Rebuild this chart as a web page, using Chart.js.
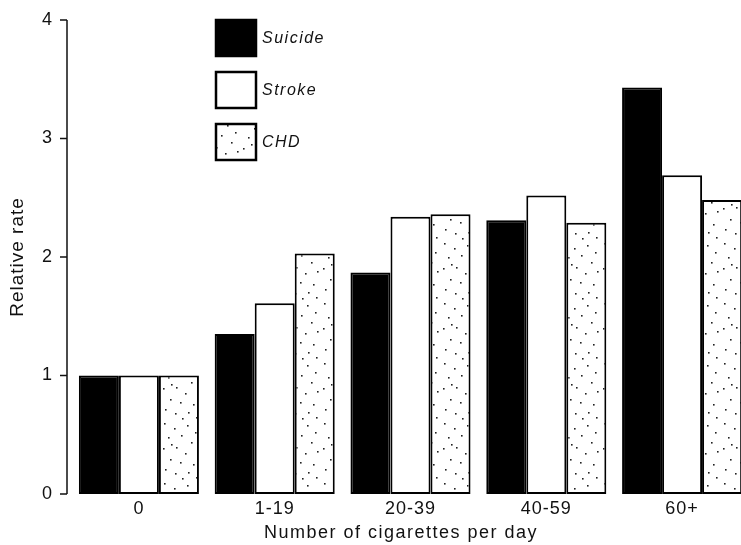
<!DOCTYPE html>
<html>
<head>
<meta charset="utf-8">
<script src="https://cdn.jsdelivr.net/npm/chart.js@4/dist/chart.umd.min.js"></script>
<style>
  html, body { margin: 0; padding: 0; background: #fff; overflow: hidden; }
  #wrap { position: relative; width: 752px; height: 545px; }
</style>
</head>
<body>
<div id="wrap"><canvas id="c"></canvas></div>
<script>
// ---- data ----
const categories = ['0', '1-19', '20-39', '40-59', '60+'];
const suicide = [1.0, 1.35, 1.87, 2.31, 3.43];
const stroke  = [1.0, 1.61, 2.34, 2.52, 2.69];
const chd     = [1.0, 2.03, 2.36, 2.29, 2.48];
const seriesNames = ['Suicide', 'Stroke', 'CHD'];
const yTicks = [0, 1, 2, 3, 4];
const xTitle = 'Number of cigarettes per day';

// ---- sparse dot pattern for CHD ----
function makeDots() {
  const t = document.createElement('canvas');
  t.width = 40; t.height = 60;
  const g = t.getContext('2d');
  g.fillStyle = '#fff';
  g.fillRect(0, 0, 40, 60);
  g.fillStyle = '#222';
  const pts = [[4,3],[14,8],[27,5],[35,12],[8,17],[21,15],[31,22],[3,28],[16,27],[25,33],
               [37,31],[10,39],[20,42],[33,44],[5,49],[15,53],[28,52],[36,57],[22,58],[11,24]];
  pts.forEach(p => g.fillRect(p[0], p[1], 1.6, 1.6));
  return g.createPattern(t, 'repeat');
}
const dotPattern = makeDots();

const FONT = "'Liberation Sans', Arial, Helvetica, sans-serif";

const spacingPlugin = {
  id: 'spacing',
  beforeLayout(chart) { chart.ctx.letterSpacing = '1px'; },
  beforeDraw(chart) { chart.ctx.letterSpacing = '1px'; }
};

const axisPlugin = {
  id: 'yAxisLine',
  afterDraw(chart) {
    const ctx = chart.ctx;
    const y = chart.scales.y;
    const x0 = chart.chartArea.left - 4;
    ctx.save();
    ctx.strokeStyle = '#111';
    ctx.lineWidth = 1.5;
    ctx.beginPath();
    ctx.moveTo(x0, y.getPixelForValue(4));
    ctx.lineTo(x0, y.getPixelForValue(0));
    yTicks.forEach(v => {
      const py = y.getPixelForValue(v);
      ctx.moveTo(x0 - 7, py);
      ctx.lineTo(x0, py);
    });
    ctx.stroke();
    // x-axis title, centred on the drawn axis span
    ctx.fillStyle = '#111';
    ctx.font = "18px " + FONT;
    ctx.letterSpacing = '1.5px';
    ctx.textAlign = 'center';
    ctx.textBaseline = 'middle';
    ctx.fillText(xTitle, 401, 533);
    ctx.restore();
  }
};

const legendPlugin = {
  id: 'boxLegend',
  afterDraw(chart) {
    const ctx = chart.ctx;
    const fills = ['#000', '#fff', dotPattern];
    ctx.save();
    ctx.letterSpacing = '1.5px';
    seriesNames.forEach((name, i) => {
      const bx = 215, by = 19 + i * 52, bw = 42, bh = 38;
      ctx.fillStyle = fills[i];
      ctx.fillRect(bx, by, bw, bh);
      ctx.strokeStyle = '#000';
      ctx.lineWidth = 2.5;
      ctx.strokeRect(bx + 1, by + 1, bw - 2, bh - 2);
      ctx.fillStyle = '#111';
      ctx.font = "italic 16px " + FONT;
      ctx.textAlign = 'left';
      ctx.textBaseline = 'middle';
      ctx.fillText(name, bx + 47, by + bh / 2 + 1);
    });
    ctx.restore();
  }
};

new Chart(document.getElementById('c'), {
  type: 'bar',
  data: {
    labels: categories,
    datasets: [
      { label: seriesNames[0], data: suicide, backgroundColor: '#000', borderColor: '#000' },
      { label: seriesNames[1], data: stroke,  backgroundColor: '#fff', borderColor: '#000' },
      { label: seriesNames[2], data: chd,     backgroundColor: dotPattern, borderColor: '#000' }
    ]
  },
  options: {
    responsive: true,
    maintainAspectRatio: false,
    animation: false,
    layout: { padding: { top: 20, right: 2, left: 0, bottom: 0 } },
    datasets: {
      bar: {
        borderWidth: 2,
        borderSkipped: false,
        barPercentage: 1.0,
        categoryPercentage: 0.884
      }
    },
    plugins: {
      legend: { display: false },
      tooltip: { enabled: false }
    },
    scales: {
      x: {
        grid: { display: false, drawTicks: false },
        border: { display: false },
        ticks: { color: '#111', font: { family: FONT, size: 18 }, padding: 4 },
        title: { display: false },
        afterFit(s) { s.height = 51; s.paddingLeft = 0; s.paddingRight = 0; }
      },
      y: {
        min: 0, max: 4,
        afterBuildTicks(s) { s.ticks = yTicks.map(v => ({ value: v })); },
        grid: { display: false, drawTicks: false },
        border: { display: false },
        ticks: { color: '#111', font: { family: FONT, size: 18 }, padding: 18 },
        title: { display: true, text: 'Relative rate', color: '#111',
                 font: { family: FONT, size: 19 }, padding: { top: 6, bottom: 0 } },
        afterFit(s) { s.width = 71; s.paddingTop = 0; s.paddingBottom = 0; }
      }
    }
  },
  plugins: [spacingPlugin, axisPlugin, legendPlugin]
});
</script>
</body>
</html>
